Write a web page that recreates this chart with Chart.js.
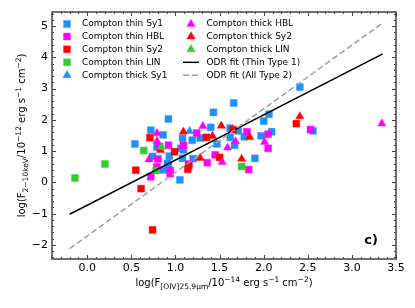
<!DOCTYPE html>
<html>
<head>
<meta charset="utf-8">
<script src="https://cdn.jsdelivr.net/npm/chart.js@4.4.0/dist/chart.umd.min.js"></script>
<style>
  html, body { margin: 0; padding: 0; background: #fff; }
  #wrap { width: 415px; height: 308px; }
</style>
</head>
<body>
<div id="wrap"><canvas id="chart" width="415" height="308"></canvas></div>
<script>
// valores: [log F_OIV, log F_2-10keV]
const thinSy1 = [[0.54,1.23],[0.72,1.67],[0.86,1.52],[0.79,1.13],[0.74,0.83],[0.92,2.03],[0.93,0.84],[0.91,0.61],[0.86,0.40],[1.06,1.09],[1.05,0.08],[1.08,1.41],[1.19,1.35],[1.28,1.42],[1.40,1.76],[1.43,2.24],[1.66,2.54],[1.62,1.74],[1.71,1.65],[1.47,1.23],[1.62,1.44],[1.67,1.19],[1.09,1.04],[1.20,0.76],[1.08,0.77],[1.78,1.46],[1.97,1.49],[2.09,1.62],[2.00,1.96],[2.06,2.18],[2.41,3.05],[2.56,1.65],[1.90,0.77],[0.92,0.56]];
const thinHBL = [[0.72,0.18],[0.79,0.50],[0.94,0.38],[0.94,0.28],[0.80,0.75],[0.92,1.19],[0.82,1.14],[1.09,1.18],[1.24,1.58],[1.36,0.63],[1.15,0.59],[1.45,0.88],[1.81,1.62],[2.05,1.54],[2.05,1.09],[1.83,0.41],[2.53,1.69]];
const thinSy2 = [[0.55,0.39],[0.61,-0.20],[0.74,-1.52],[0.71,1.43],[0.99,0.98],[1.14,0.42],[1.15,0.53],[1.35,1.44],[1.50,0.80],[1.65,1.69],[2.37,1.88]];
const thinLIN = [[-0.14,0.14],[0.20,0.59],[0.64,1.02],[0.78,0.38],[1.75,0.51]];
const thickSy1 = [[1.16,1.64]];
const thickHBL = [[0.79,1.57],[0.79,1.32],[0.70,0.73],[1.31,1.80],[1.68,1.31],[1.59,1.11],[1.53,0.65],[2.01,1.29],[3.34,1.88]];
const thickSy2 = [[0.83,1.03],[1.09,1.62],[1.28,0.78],[1.42,1.48],[1.52,1.81],[1.84,1.45],[1.75,0.75],[2.41,2.11]];
const thickLIN = [[0.84,1.13]];

// ajustes ODR (extremos de las rectas)
const fitX = [-0.2, 3.35];
const fitThinType1 = [-1.02, 4.11];
const fitAllType2 = [-2.12, 5.10];

const xTickLabels = [0, 0.5, 1, 1.5, 2, 2.5, 3, 3.5];
const yTickLabels = [-2, -1, 0, 1, 2, 3, 4, 5];

const BLUE = '#1E90FF', MAG = '#FF00FF', RED = '#FF0000', GREEN = '#32CD32';
const FONT = '"DejaVu Sans", sans-serif';

const toPts = arr => arr.map(p => ({ x: p[0], y: p[1] }));

function markerSet(label, arr, color, style, order) {
    return {
        label: label,
        data: toPts(arr),
        pointStyle: style,
        pointRadius: style === 'rect' ? 4.9 : 4.8,
        backgroundColor: color,
        borderColor: color + '66',
        borderWidth: 1,
        showLine: false,
        order: order
    };
}

const datasets = [
    markerSet('Compton thin Sy1', thinSy1, BLUE, 'rect', 10),
    markerSet('Compton thin HBL', thinHBL, MAG, 'rect', 9),
    markerSet('Compton thin Sy2', thinSy2, RED, 'rect', 8),
    markerSet('Compton thin LIN', thinLIN, GREEN, 'rect', 7),
    markerSet('Compton thick Sy1', thickSy1, BLUE, 'triangle', 6),
    markerSet('Compton thick HBL', thickHBL, MAG, 'triangle', 5),
    markerSet('Compton thick Sy2', thickSy2, RED, 'triangle', 4),
    markerSet('Compton thick LIN', thickLIN, GREEN, 'triangle', 3),
    {
        label: 'ODR fit (Thin Type 1)',
        data: fitX.map((x, i) => ({ x: x, y: fitThinType1[i] })),
        showLine: true, borderColor: '#000', borderWidth: 1.5,
        pointRadius: 0, order: 2
    },
    {
        label: 'ODR fit (All Type 2)',
        data: fitX.map((x, i) => ({ x: x, y: fitAllType2[i] })),
        showLine: true, borderColor: '#a0a0a0', borderWidth: 1.5,
        borderDash: [6, 3], pointRadius: 0, order: 1
    }
];

// texto con subindices / superindices
function drawRich(ctx, parts, cx, cy, angle) {
    const big = '10px ' + FONT, small = '7.5px ' + FONT;
    let total = 0;
    parts.forEach(p => {
        ctx.font = (p.sub || p.sup) ? small : big;
        p.w = ctx.measureText(p.t).width;
        total += p.w;
    });
    ctx.save();
    ctx.translate(cx, cy);
    ctx.rotate(angle);
    ctx.fillStyle = '#000';
    ctx.textBaseline = 'alphabetic';
    ctx.textAlign = 'left';
    let x = -total / 2;
    parts.forEach(p => {
        ctx.font = (p.sub || p.sup) ? small : big;
        const dy = p.sub ? 3 : (p.sup ? -4.5 : 0);
        ctx.fillText(p.t, x, 4 + dy);
        x += p.w;
    });
    ctx.restore();
}

const framePlugin = {
    id: 'frame',
    afterDraw(chart) {
        const ctx = chart.ctx;
        const a = chart.chartArea;
        const xs = chart.scales.x, ys = chart.scales.y;
        ctx.save();
        ctx.strokeStyle = '#444';
        ctx.lineWidth = 1;
        // ticks hacia dentro en los cuatro lados
        const tick = (x1, y1, x2, y2) => { ctx.beginPath(); ctx.moveTo(x1, y1); ctx.lineTo(x2, y2); ctx.stroke(); };
        for (let i = -4; i <= 35; i++) {
            const v = i / 10;
            const px = Math.round(xs.getPixelForValue(v)) + 0.5;
            const len = (i % 5 === 0) ? 4 : 2;
            tick(px, a.bottom, px, a.bottom - len);
            tick(px, a.top, px, a.top + len);
        }
        for (let i = -12; i <= 27; i++) {
            const v = i / 5;
            const py = Math.round(ys.getPixelForValue(v)) + 0.5;
            const len = (i % 5 === 0) ? 4 : 2;
            tick(a.left, py, a.left + len, py);
            tick(a.right, py, a.right - len, py);
        }
        ctx.lineWidth = 1.5;
        ctx.strokeRect(a.left, a.top, a.right - a.left, a.bottom - a.top);

        // leyenda en dos columnas
        ctx.font = '9px ' + FONT;
        ctx.textBaseline = 'middle';
        ctx.textAlign = 'left';
        const rows = [24, 36.5, 49.3, 62.3, 75.3];
        chart.data.datasets.forEach((ds, i) => {
            const col = i < 5 ? 0 : 1;
            const y = rows[i % 5];
            const mx = col === 0 ? 67 : 191;
            const tx = col === 0 ? 82 : 206.5;
            ctx.save();
            if (ds.showLine) {
                ctx.strokeStyle = ds.borderColor;
                ctx.lineWidth = 1.5;
                ctx.setLineDash(ds.borderDash || []);
                tick(mx - 8, y, mx + 8, y);
            } else {
                ctx.fillStyle = ds.backgroundColor;
                ctx.strokeStyle = ds.borderColor;
                ctx.lineWidth = 1;
                Chart.helpers.drawPoint(ctx, { pointStyle: ds.pointStyle, radius: ds.pointRadius, borderWidth: 1 }, mx, y);
            }
            ctx.restore();
            ctx.fillStyle = '#000';
            ctx.fillText(ds.label, tx, y);
        });

        // titulos de ejes
        drawRich(ctx, [
            { t: 'log(F' }, { t: '[OIV]25.9\u03bcm', sub: true }, { t: '/10' }, { t: '\u221214', sup: true },
            { t: ' erg s' }, { t: '\u22121', sup: true }, { t: ' cm' }, { t: '\u22122', sup: true }, { t: ')' }
        ], (a.left + a.right) / 2, 282, 0);
        drawRich(ctx, [
            { t: 'log(F' }, { t: '2\u221210keV', sub: true }, { t: '/10' }, { t: '\u221212', sup: true },
            { t: ' erg s' }, { t: '\u22121', sup: true }, { t: ' cm' }, { t: '\u22122', sup: true }, { t: ')' }
        ], 21, (a.top + a.bottom) / 2, -Math.PI / 2);

        ctx.font = 'bold 13px ' + FONT;
        ctx.fillStyle = '#000';
        ctx.textAlign = 'center';
        ctx.textBaseline = 'middle';
        ctx.fillText('c)', 371, 241);
        ctx.restore();
    }
};

const fmtMinus = v => (v < 0 ? '\u2212' + Math.abs(v) : String(v));

new Chart(document.getElementById('chart'), {
    type: 'scatter',
    data: { datasets: datasets },
    options: {
        responsive: false,
        animation: false,
        layout: { padding: { top: 12, right: 19, left: 0, bottom: 0 } },
        plugins: { legend: { display: false }, tooltip: { enabled: false } },
        scales: {
            x: {
                type: 'linear', min: -0.4, max: 3.5,
                grid: { display: false, drawTicks: false },
                border: { display: false },
                afterBuildTicks: s => { s.ticks = xTickLabels.map(v => ({ value: v })); },
                afterFit: s => { s.height = 49; },
                ticks: {
                    padding: 3, color: '#000', font: { family: FONT, size: 11 },
                    maxRotation: 0, autoSkip: false,
                    callback: v => v.toFixed(1)
                }
            },
            y: {
                type: 'linear', min: -2.45, max: 5.45,
                grid: { display: false, drawTicks: false },
                border: { display: false },
                afterBuildTicks: s => { s.ticks = yTickLabels.map(v => ({ value: v })); },
                afterFit: s => { s.width = 52; },
                ticks: {
                    padding: 4, color: '#000', font: { family: FONT, size: 11 },
                    autoSkip: false,
                    callback: v => fmtMinus(v)
                }
            }
        }
    },
    plugins: [framePlugin]
});
</script>
</body>
</html>
